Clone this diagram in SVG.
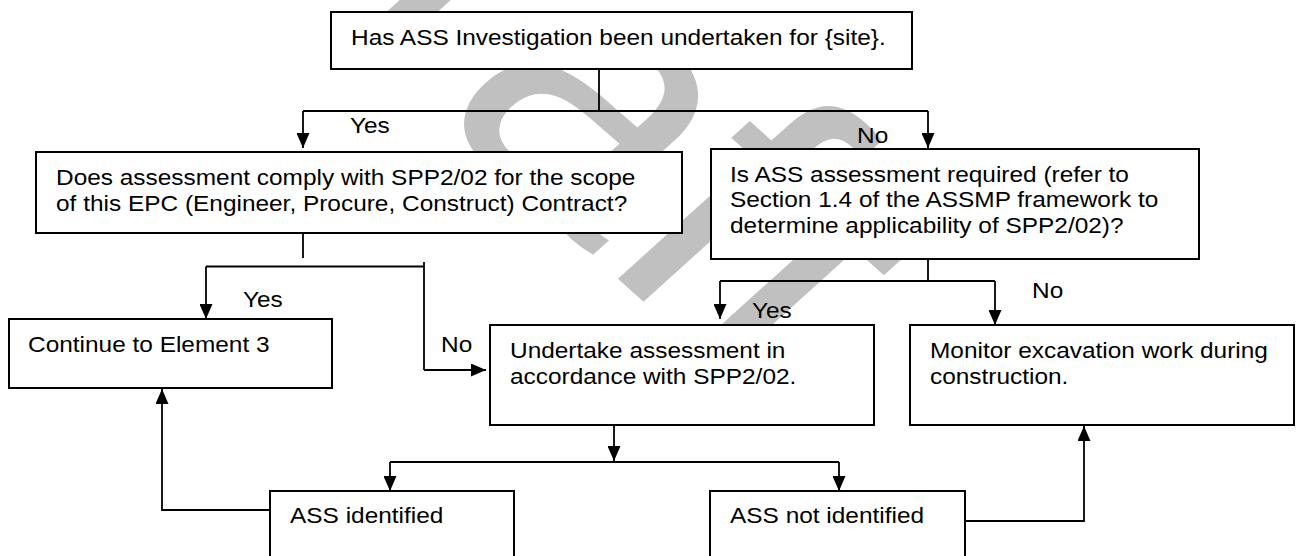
<svg xmlns="http://www.w3.org/2000/svg" width="1297" height="556" viewBox="0 0 1297 556">
<style>
.box{fill:#fff;stroke:#000;stroke-width:2}
.t{font-family:"Liberation Sans",Arial,sans-serif;font-size:22px;fill:#000}
.c{fill:none;stroke:#000;stroke-width:1.8}
.a{fill:none;stroke:#000;stroke-width:1.8;marker-end:url(#ah)}
.wm{font-family:"Liberation Sans",Arial,sans-serif;font-size:370px;fill:#c0c0c0}
</style>
<defs>
<marker id="ah" markerWidth="15" markerHeight="13" refX="15" refY="6.5" orient="auto" markerUnits="userSpaceOnUse" viewBox="0 0 15 13">
<path d="M0,0 L15,6.5 L0,13 Z" fill="#000"/>
</marker>
</defs>
<rect width="1297" height="556" fill="#fff"/>
<text class="wm" transform="scale(1.11 1) translate(112 -166) rotate(45)">Draft</text>

<g id="connectors">
<path class="c" d="M599,69 V111 M303,111 H928"/>
<path class="a" d="M303,111 V148"/>
<path class="a" d="M928,111 V148"/>
<path class="c" d="M303,233 V258"/>
<path class="c" d="M206,266.5 H424 M424,262 V370"/>
<path class="a" d="M206,266.5 V319"/>
<path class="a" d="M424,370 H486"/>
<path class="c" d="M928,259 V281 M720,281 H995"/>
<path class="a" d="M720,281 V319"/>
<path class="a" d="M995,281 V325"/>
<path class="a" d="M614,425 V461"/>
<path class="c" d="M390,462 H839"/>
<path class="a" d="M390,462 V491"/>
<path class="a" d="M839,462 V491"/>
<path class="a" d="M270,510 H162 V389"/>
<path class="a" d="M965,521 H1084 V426"/>
</g>

<g id="n-top">
<rect class="box" x="331" y="12" width="581" height="57"/>
<text class="t" transform="translate(351 45) scale(1.11 1)">Has ASS Investigation been undertaken for {site}.</text>
</g>
<g id="n-epc">
<rect class="box" x="36" y="152" width="646" height="81"/>
<text class="t" transform="translate(56 185) scale(1.11 1)">Does assessment comply with SPP2/02 for the scope</text>
<text class="t" transform="translate(56 210.5) scale(1.11 1)">of this EPC (Engineer, Procure, Construct) Contract?</text>
</g>
<g id="n-required">
<rect class="box" x="711" y="149" width="488" height="110"/>
<text class="t" transform="translate(730 181.5) scale(1.11 1)">Is ASS assessment required (refer to</text>
<text class="t" transform="translate(730 207) scale(1.11 1)">Section 1.4 of the ASSMP framework to</text>
<text class="t" transform="translate(730 232.5) scale(1.11 1)">determine applicability of SPP2/02)?</text>
</g>
<g id="n-continue">
<rect class="box" x="9" y="319" width="323" height="69"/>
<text class="t" transform="translate(28 352) scale(1.11 1)">Continue to Element 3</text>
</g>
<g id="n-undertake">
<rect class="box" x="490" y="325" width="384" height="100"/>
<text class="t" transform="translate(510 358) scale(1.11 1)">Undertake assessment in</text>
<text class="t" transform="translate(510 383.5) scale(1.11 1)">accordance with SPP2/02.</text>
</g>
<g id="n-monitor">
<rect class="box" x="910" y="325" width="384" height="100"/>
<text class="t" transform="translate(930 358) scale(1.11 1)">Monitor excavation work during</text>
<text class="t" transform="translate(930 383.5) scale(1.11 1)">construction.</text>
</g>
<g id="n-identified">
<rect class="box" x="270" y="491" width="244" height="75"/>
<text class="t" transform="translate(290 523) scale(1.11 1)">ASS identified</text>
</g>
<g id="n-not-identified">
<rect class="box" x="710" y="491" width="255" height="75"/>
<text class="t" transform="translate(730 523) scale(1.11 1)">ASS not identified</text>
</g>

<g id="labels">
<text class="t" transform="translate(350 133) scale(1.11 1)">Yes</text>
<text class="t" transform="translate(857 143) scale(1.11 1)">No</text>
<text class="t" transform="translate(243 307) scale(1.11 1)">Yes</text>
<text class="t" transform="translate(441 352) scale(1.11 1)">No</text>
<text class="t" transform="translate(752 318) scale(1.11 1)">Yes</text>
<text class="t" transform="translate(1032 298) scale(1.11 1)">No</text>
</g>
</svg>
